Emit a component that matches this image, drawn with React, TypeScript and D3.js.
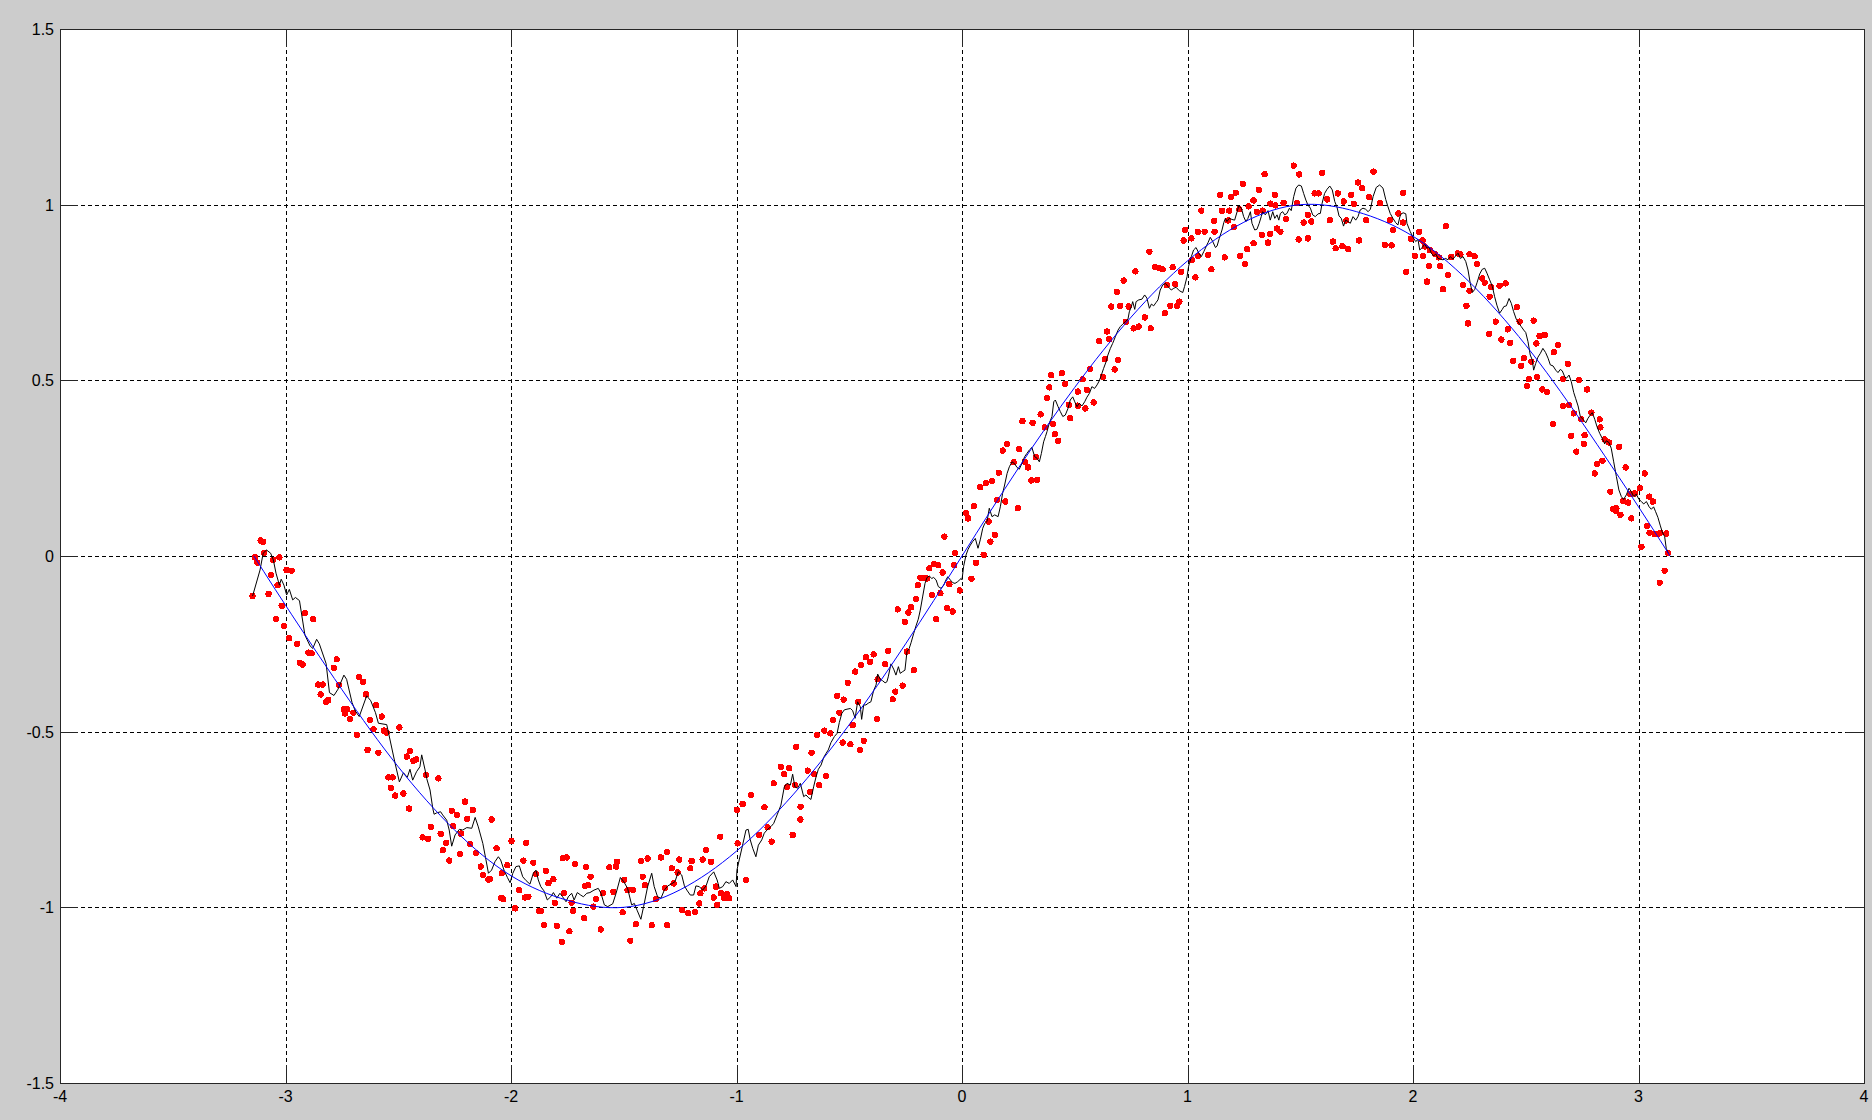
import React from 'react';
import * as d3 from 'd3';

const xTicks = [-4, -3, -2, -1, 0, 1, 2, 3, 4];
const xTickLabels = ['-4', '-3', '-2', '-1', '0', '1', '2', '3', '4'];
const yTicks = [-1.5, -1, -0.5, 0, 0.5, 1, 1.5];
const yTickLabels = ['-1.5', '-1', '-0.5', '0', '0.5', '1', '1.5'];

// red noisy samples
const redPoints: [number, number][] = [
  [-3.110,0.044],[-3.099,0.040],[-3.095,0.009],[-3.135,-0.004],[-3.125,-0.019],[-3.027,-0.004],[-3.054,-0.011],[-2.995,-0.040],[-2.973,-0.042],[-3.064,-0.054],[-3.035,-0.083],[-3.146,-0.114],[-3.075,-0.108],[-3.017,-0.142],[-3.042,-0.180],[-2.914,-0.163],[-2.877,-0.180],[-3.007,-0.199],[-2.983,-0.234],[-2.948,-0.250],[-2.899,-0.275],[-2.884,-0.277],[-2.936,-0.304],[-2.924,-0.309],[-2.773,-0.294],[-2.785,-0.318],[-2.855,-0.366],[-2.835,-0.366],[-2.844,-0.394],[-2.820,-0.415],[-2.810,-0.410],[-2.762,-0.367],[-2.673,-0.345],[-2.655,-0.358],[-2.643,-0.394],[-2.741,-0.436],[-2.726,-0.436],[-2.736,-0.448],[-2.714,-0.464],[-2.699,-0.446],[-2.598,-0.425],[-2.573,-0.457],[-2.625,-0.467],[-2.563,-0.497],[-2.551,-0.503],[-2.610,-0.493],[-2.495,-0.488],[-2.684,-0.509],[-2.636,-0.552],[-2.588,-0.560],[-2.448,-0.556],[-2.462,-0.571],[-2.433,-0.583],[-2.421,-0.579],[-2.544,-0.630],[-2.525,-0.630],[-2.533,-0.660],[-2.477,-0.676],[-2.514,-0.682],[-2.452,-0.719],
  [-2.377,-0.623],[-2.322,-0.633],[-2.204,-0.699],[-2.263,-0.725],[-2.241,-0.737],[-2.170,-0.723],[-2.194,-0.748],[-2.086,-0.750],[-2.356,-0.771],[-2.256,-0.769],[-2.392,-0.801],[-2.367,-0.805],[-2.312,-0.791],[-2.222,-0.790],[-2.288,-0.816],[-2.303,-0.837],[-2.182,-0.820],[-2.226,-0.848],[-2.274,-0.867],[-2.155,-0.845],[-2.064,-0.832],[-1.998,-0.811],[-1.933,-0.816],[-2.134,-0.884],[-2.016,-0.880],[-1.945,-0.867],[-1.901,-0.873],[-1.770,-0.860],[-1.753,-0.858],[-1.716,-0.877],[-1.667,-0.885],[-2.123,-0.908],[-2.101,-0.921],[-2.093,-0.920],[-2.041,-0.903],[-1.889,-0.905],[-1.845,-0.896],[-1.812,-0.920],[-1.834,-0.931],[-1.647,-0.913],[-1.672,-0.939],[-1.657,-0.937],[-1.963,-0.951],[-2.043,-0.973],[-2.034,-0.977],[-1.938,-0.972],[-1.923,-0.970],[-1.805,-0.987],[-1.765,-0.960],[-1.731,-0.987],[-1.623,-0.977],[-1.982,-1.003],[-1.876,-1.010],[-1.868,-1.010],[-1.724,-1.010],[-1.635,-0.998],[-1.676,-1.031],[-1.854,-1.050],[-1.797,-1.053],[-1.741,-1.068],[-1.602,-1.063],[-1.775,-1.098],
  [-0.835,-0.647],[-0.936,-0.680],[-0.973,-0.706],[-0.876,-0.715],[-0.998,-0.722],[-1.072,-0.799],[-0.995,-0.818],[-0.862,-0.772],[-0.844,-0.813],[-0.899,-0.794],[-1.135,-0.837],[-1.308,-0.843],[-1.335,-0.858],[-1.424,-0.868],[-1.394,-0.861],[-1.530,-0.870],[-1.564,-0.886],[-1.534,-0.884],[-1.254,-0.864],[-1.199,-0.868],[-1.150,-0.864],[-1.113,-0.870],[-1.205,-0.889],[-1.287,-0.889],[-1.416,-0.913],[-1.261,-0.901],[-0.958,-0.922],[-1.498,-0.922],[-1.316,-0.945],[-1.279,-0.932],[-1.406,-0.937],[-1.483,-0.951],[-1.460,-0.950],[-1.546,-0.956],[-1.143,-0.946],[-1.091,-0.941],[-1.160,-0.960],[-1.101,-0.972],[-1.069,-0.960],[-1.042,-0.962],[-1.054,-0.974],[-1.032,-0.974],[-1.357,-0.977],[-1.593,-0.960],[-1.165,-0.989],[-1.086,-0.993],[-1.241,-1.008],[-1.214,-1.017],[-1.184,-1.013],[-1.505,-1.014],[-1.446,-1.048],[-1.376,-1.051],[-1.308,-1.051],[-1.471,-1.095],
  [-0.078,0.055],[-0.031,0.009],[-0.034,-0.026],[-0.145,-0.035],[-0.123,-0.023],[-0.105,-0.026],[-0.086,-0.047],[-0.184,-0.062],[-0.167,-0.062],[-0.155,-0.064],[-0.196,-0.083],[-0.056,-0.080],[-0.010,-0.098],[-0.134,-0.111],[-0.096,-0.106],[-0.204,-0.123],[-0.226,-0.146],[-0.285,-0.152],[-0.238,-0.161],[-0.066,-0.149],[-0.041,-0.158],[-0.115,-0.180],[-0.253,-0.187],[-0.327,-0.270],[-0.244,-0.272],[-0.392,-0.280],[-0.426,-0.288],[-0.407,-0.301],[-0.448,-0.310],[-0.341,-0.308],[-0.474,-0.329],[-0.214,-0.325],[-0.507,-0.361],[-0.374,-0.351],[-0.263,-0.369],[-0.296,-0.386],[-0.307,-0.408],[-0.554,-0.398],[-0.525,-0.409],[-0.460,-0.415],[-0.544,-0.446],[-0.377,-0.464],[-0.572,-0.467],[-0.485,-0.481],[-0.611,-0.497],[-0.584,-0.505],[-0.643,-0.510],[-0.529,-0.531],[-0.495,-0.536],[-0.436,-0.526],[-0.452,-0.552],[-0.736,-0.543],[-0.667,-0.560],[-0.803,-0.600],[-0.788,-0.621],[-0.766,-0.604],[-0.684,-0.611],[-0.776,-0.657],[-0.740,-0.652],[-0.655,-0.621],[-0.603,-0.626],[-0.633,-0.652],[-0.673,-0.671],[-0.716,-0.714],[-0.717,-0.750],[-0.751,-0.794],
  [0.769,0.810],[0.717,0.784],[0.687,0.752],[0.662,0.710],[0.702,0.712],[0.739,0.710],[0.761,0.648],[0.784,0.653],[0.727,0.667],[0.643,0.639],[0.653,0.617],[0.608,0.611],[0.633,0.560],[0.692,0.558],[0.677,0.531],[0.568,0.532],[0.624,0.510],[0.535,0.503],[0.443,0.520],[0.396,0.515],[0.458,0.490],[0.387,0.480],[0.514,0.468],[0.554,0.473],[0.377,0.449],[0.584,0.437],[0.473,0.430],[0.514,0.428],[0.547,0.420],[0.349,0.403],[0.480,0.392],[0.268,0.384],[0.313,0.379],[0.367,0.366],[0.402,0.376],[0.411,0.347],[0.426,0.328],[0.200,0.319],[0.181,0.300],[0.254,0.304],[0.229,0.267],[0.278,0.268],[0.293,0.252],[0.328,0.281],[0.163,0.237],[0.307,0.215],[0.333,0.217],[0.133,0.214],[0.081,0.196],[0.106,0.207],[0.155,0.159],[0.192,0.155],[0.052,0.142],[0.248,0.136],[0.018,0.122],[0.027,0.107],[0.118,0.098],[0.145,0.060],[0.126,0.041],[0.096,0.003],[0.062,-0.019],[0.042,-0.065],
  [1.471,1.111],[1.495,1.086],[1.597,1.091],[1.342,1.087],[1.245,1.059],[1.316,1.042],[1.145,1.028],[1.193,1.022],[1.214,1.034],[1.387,1.028],[1.564,1.032],[1.582,1.032],[1.293,1.012],[1.271,0.995],[1.367,1.003],[1.389,0.998],[1.426,1.005],[1.485,1.004],[1.061,0.983],[1.153,0.983],[1.185,0.983],[1.230,0.987],[1.308,0.980],[1.333,0.983],[1.437,0.959],[1.534,0.971],[1.118,0.954],[1.180,0.955],[1.515,0.949],[1.549,0.952],[0.990,0.928],[1.046,0.923],[1.076,0.923],[1.120,0.923],[1.205,0.936],[1.397,0.932],[1.412,0.923],[1.330,0.914],[1.367,0.917],[0.983,0.898],[1.017,0.904],[1.293,0.890],[1.357,0.892],[1.493,0.901],[1.534,0.904],[1.264,0.873],[0.831,0.866],[1.092,0.857],[1.047,0.854],[1.165,0.850],[1.234,0.854],[1.020,0.843],[1.256,0.831],[0.857,0.822],[0.875,0.819],[0.890,0.816],[0.934,0.822],[0.972,0.809],[1.106,0.816],[1.035,0.793],[0.946,0.774],[0.908,0.771],[0.964,0.724],[0.924,0.712],[0.954,0.712],[0.899,0.691],[0.811,0.679],[0.837,0.648],
  [1.825,1.094],[1.756,1.063],[1.775,1.047],[1.667,1.032],[1.726,1.028],[1.956,1.034],[1.619,1.015],[1.693,1.009],[1.805,1.021],[1.737,1.002],[1.855,1.004],[1.631,0.956],[1.704,0.955],[1.793,0.956],[1.935,0.975],[1.897,0.956],[1.911,0.928],[1.956,0.949],[2.145,0.939],[2.027,0.923],[1.645,0.895],[1.761,0.898],[1.657,0.876],[1.687,0.882],[1.712,0.873],[1.875,0.886],[1.905,0.884],[1.991,0.903],[2.042,0.898],[2.052,0.881],[2.074,0.871],[2.096,0.860],[2.008,0.854],[2.044,0.854],[2.115,0.850],[2.199,0.861],[2.210,0.859],[2.170,0.851],[2.251,0.859],[2.273,0.853],[2.071,0.825],[2.121,0.825],[2.284,0.831],[1.970,0.809],[2.155,0.800],[2.307,0.790],[2.062,0.781],[2.222,0.771],[2.133,0.759],[2.318,0.778],[2.251,0.755],[2.347,0.765],[2.384,0.769],[2.340,0.738],[2.237,0.712],[2.244,0.662],[2.367,0.667],[2.338,0.632],[2.392,0.616],
  [2.411,0.776],[2.460,0.708],[2.473,0.667],[2.535,0.670],[2.421,0.645],[2.431,0.607],[2.561,0.626],[2.584,0.629],[2.547,0.605],[2.643,0.601],[2.625,0.580],[2.491,0.563],[2.444,0.556],[2.525,0.553],[2.480,0.541],[2.687,0.547],[2.514,0.503],[2.550,0.510],[2.665,0.504],[2.736,0.501],[2.506,0.484],[2.573,0.474],[2.594,0.467],[2.772,0.474],[2.665,0.427],[2.692,0.430],[2.713,0.406],[2.791,0.408],[2.621,0.376],[2.746,0.389],[2.828,0.389],[2.831,0.366],[2.702,0.342],[2.761,0.344],[2.757,0.319],[2.850,0.332],[2.869,0.323],[2.914,0.311],[2.724,0.297],[2.840,0.271],[2.816,0.262],[2.943,0.252],[2.806,0.235],[3.028,0.235],[3.006,0.193],[2.875,0.183],[2.984,0.178],[2.964,0.176],[2.932,0.157],[2.954,0.152],[3.047,0.169],[3.064,0.155],[2.887,0.133],[2.899,0.129],[2.902,0.136],[2.920,0.117],[2.968,0.107],[3.038,0.085],[3.049,0.066],[3.072,0.062],[3.086,0.062],[3.096,0.066],[3.123,0.064],[3.013,0.026],[3.131,0.009],[3.116,-0.042],[3.094,-0.076],
];

// black noisy trace
const blackLine: [number, number][] = [
  [-3.146,-0.114],[-3.113,-0.040],[-3.099,0.008],[-3.084,0.017],[-3.066,0.008],[-3.054,-0.011],[-3.042,-0.049],[-3.027,-0.083],[-3.019,-0.066],[-3.007,-0.083],[-2.995,-0.111],[-2.983,-0.095],[-2.968,-0.125],[-2.956,-0.118],[-2.938,-0.127],[-2.914,-0.225],[-2.891,-0.256],[-2.879,-0.263],[-2.862,-0.237],[-2.850,-0.250],[-2.820,-0.306],[-2.805,-0.389],[-2.785,-0.397],[-2.767,-0.379],[-2.741,-0.339],[-2.729,-0.351],[-2.705,-0.417],[-2.690,-0.442],[-2.673,-0.457],[-2.640,-0.398],[-2.622,-0.412],[-2.601,-0.446],[-2.588,-0.476],[-2.551,-0.480],[-2.514,-0.590],[-2.495,-0.643],[-2.477,-0.617],[-2.460,-0.630],[-2.448,-0.607],[-2.436,-0.638],[-2.419,-0.614],[-2.404,-0.600],
  [-2.396,-0.566],[-2.381,-0.609],[-2.374,-0.633],[-2.359,-0.666],[-2.347,-0.718],[-2.341,-0.735],[-2.329,-0.731],[-2.312,-0.728],[-2.303,-0.737],[-2.285,-0.752],[-2.274,-0.780],[-2.263,-0.826],[-2.248,-0.794],[-2.229,-0.778],[-2.214,-0.780],[-2.196,-0.773],[-2.174,-0.775],[-2.159,-0.744],[-2.145,-0.771],[-2.125,-0.818],[-2.111,-0.865],[-2.100,-0.903],[-2.086,-0.894],[-2.071,-0.870],[-2.056,-0.856],[-2.046,-0.865],[-2.031,-0.894],[-2.016,-0.915],[-2.004,-0.930],[-1.992,-0.903],[-1.978,-0.884],[-1.963,-0.882],[-1.948,-0.913],[-1.933,-0.924],[-1.916,-0.934],[-1.901,-0.903],[-1.889,-0.894],[-1.879,-0.922],[-1.868,-0.941],[-1.854,-0.953],[-1.839,-0.979],[-1.824,-0.970],[-1.812,-0.958],[-1.797,-0.974],[-1.783,-0.960],[-1.771,-0.970],[-1.756,-0.984],[-1.746,-0.970],[-1.731,-0.960],[-1.720,-0.979],[-1.706,-0.958],[-1.691,-0.965],[-1.679,-0.970],[-1.664,-0.960],[-1.650,-0.958],[-1.632,-0.951],[-1.613,-0.946],
  [-1.601,-0.960],[-1.586,-0.993],[-1.571,-0.998],[-1.549,-0.990],[-1.534,-0.960],[-1.515,-0.915],[-1.500,-0.927],[-1.483,-0.946],[-1.465,-0.993],[-1.453,-0.989],[-1.441,-1.008],[-1.424,-1.034],[-1.412,-0.998],[-1.394,-0.941],[-1.376,-0.903],[-1.365,-0.941],[-1.350,-0.970],[-1.335,-0.974],[-1.320,-0.951],[-1.305,-0.939],[-1.290,-0.934],[-1.273,-0.927],[-1.258,-0.899],[-1.243,-0.908],[-1.231,-0.939],[-1.220,-0.951],[-1.205,-0.965],[-1.190,-0.965],[-1.180,-0.939],[-1.165,-0.941],[-1.150,-0.951],[-1.135,-0.939],[-1.121,-0.913],[-1.101,-0.899],[-1.086,-0.922],[-1.076,-0.946],[-1.061,-0.941],[-1.047,-0.927],[-1.032,-0.932],[-1.017,-0.922],[-1.002,-0.941],[-0.998,-0.894],[-0.988,-0.865],[-0.973,-0.823],[-0.958,-0.780],[-0.948,-0.778],[-0.939,-0.808],[-0.928,-0.832],[-0.914,-0.856],[-0.903,-0.823],[-0.888,-0.808],[-0.877,-0.789],[-0.865,-0.780],[-0.847,-0.770],[-0.835,-0.761],[-0.820,-0.737],
  [-0.803,-0.709],[-0.788,-0.657],[-0.776,-0.647],[-0.761,-0.652],[-0.751,-0.621],[-0.741,-0.657],[-0.729,-0.661],[-0.717,-0.647],[-0.702,-0.685],[-0.692,-0.680],[-0.682,-0.687],[-0.670,-0.693],[-0.658,-0.657],[-0.647,-0.628],[-0.637,-0.607],[-0.625,-0.595],[-0.613,-0.573],[-0.603,-0.562],[-0.593,-0.552],[-0.581,-0.531],[-0.566,-0.514],[-0.554,-0.505],[-0.544,-0.474],[-0.533,-0.448],[-0.522,-0.438],[-0.510,-0.436],[-0.495,-0.434],[-0.485,-0.440],[-0.474,-0.462],[-0.463,-0.415],[-0.451,-0.429],[-0.445,-0.465],[-0.436,-0.424],[-0.426,-0.424],[-0.416,-0.419],[-0.404,-0.415],[-0.392,-0.383],[-0.381,-0.367],[-0.374,-0.336],[-0.362,-0.351],[-0.352,-0.355],[-0.341,-0.361],[-0.333,-0.358],[-0.327,-0.344],[-0.315,-0.307],[-0.303,-0.322],[-0.293,-0.339],[-0.282,-0.315],[-0.274,-0.334],[-0.263,-0.329],[-0.253,-0.325],[-0.244,-0.272],[-0.234,-0.263],[-0.226,-0.247],[-0.214,-0.220],[-0.204,-0.199],[-0.194,-0.180],[-0.185,-0.154],[-0.174,-0.114],[-0.164,-0.078],[-0.155,-0.061],[-0.145,-0.057],[-0.134,-0.064],[-0.126,-0.061],[-0.115,-0.068],[-0.105,-0.087],[-0.093,-0.092],[-0.081,-0.083],[-0.071,-0.068],[-0.063,-0.059],[-0.052,-0.068],[-0.041,-0.076],[-0.031,-0.078],[-0.019,-0.073],[-0.004,-0.064],
  [0.000,-0.068],[0.007,-0.030],[0.018,0.003],[0.027,0.019],[0.037,0.031],[0.047,0.041],[0.059,0.050],[0.071,0.022],[0.081,0.046],[0.092,0.079],[0.101,0.093],[0.111,0.098],[0.121,0.136],[0.133,0.112],[0.145,0.117],[0.160,0.112],[0.170,0.140],[0.180,0.178],[0.189,0.202],[0.200,0.235],[0.210,0.254],[0.222,0.268],[0.234,0.262],[0.244,0.252],[0.254,0.247],[0.266,0.264],[0.278,0.283],[0.288,0.292],[0.299,0.302],[0.310,0.309],[0.322,0.283],[0.333,0.278],[0.343,0.268],[0.352,0.292],[0.362,0.325],[0.370,0.340],[0.377,0.354],[0.387,0.378],[0.399,0.397],[0.407,0.439],[0.414,0.444],[0.426,0.425],[0.436,0.411],[0.447,0.397],[0.458,0.401],[0.470,0.420],[0.480,0.444],[0.491,0.453],[0.500,0.439],[0.510,0.425],[0.520,0.435],[0.532,0.427],[0.544,0.439],[0.554,0.452],[0.565,0.463],[0.576,0.482],[0.588,0.477],[0.599,0.487],[0.609,0.499],[0.618,0.515],[0.628,0.534],[0.639,0.553],[0.647,0.572],[0.658,0.591],[0.668,0.605],[0.680,0.624],[0.692,0.643],[0.702,0.653],[0.713,0.660],[0.724,0.667],[0.736,0.674],[0.742,0.695],[0.751,0.710],[0.757,0.724],[0.766,0.702],[0.772,0.724],[0.784,0.729],[0.798,0.731],
  [0.810,0.743],[0.820,0.734],[0.831,0.705],[0.840,0.717],[0.850,0.712],[0.860,0.721],[0.869,0.729],[0.879,0.757],[0.890,0.771],[0.902,0.776],[0.914,0.767],[0.928,0.757],[0.939,0.762],[0.949,0.765],[0.964,0.755],[0.979,0.750],[0.987,0.767],[0.998,0.795],[1.005,0.825],[1.017,0.852],[1.027,0.871],[1.038,0.878],[1.050,0.862],[1.061,0.852],[1.072,0.866],[1.082,0.880],[1.091,0.892],[1.101,0.907],[1.112,0.895],[1.124,0.878],[1.131,0.882],[1.141,0.904],[1.153,0.928],[1.161,0.949],[1.168,0.961],[1.175,0.952],[1.185,0.961],[1.197,0.958],[1.209,0.956],[1.220,0.980],[1.227,0.996],[1.239,0.990],[1.249,0.966],[1.259,0.952],[1.268,0.961],[1.279,0.980],[1.286,0.947],[1.298,0.928],[1.308,0.930],[1.318,0.947],[1.327,0.966],[1.333,0.980],[1.345,0.971],[1.357,0.983],[1.367,0.956],[1.378,0.980],[1.387,0.961],[1.397,0.971],[1.405,0.956],[1.412,0.975],[1.422,0.980],[1.431,0.971],[1.441,0.975],[1.452,0.990],[1.460,0.983],[1.471,1.023],[1.481,1.047],[1.493,1.056],[1.505,1.053],[1.515,1.032],[1.525,1.013],[1.534,0.999],[1.545,0.990],[1.555,0.971],[1.567,0.966],[1.579,0.974],[1.589,0.975],[1.597,1.004],
  [1.608,1.032],[1.619,1.044],[1.631,1.053],[1.642,1.042],[1.653,1.009],[1.663,0.993],[1.672,0.968],[1.682,0.961],[1.692,0.939],[1.701,0.956],[1.712,0.952],[1.722,0.947],[1.734,0.966],[1.746,0.956],[1.756,0.966],[1.766,0.985],[1.778,0.990],[1.790,0.987],[1.801,0.980],[1.811,0.987],[1.823,1.023],[1.837,1.049],[1.852,1.056],[1.867,1.047],[1.879,1.015],[1.889,0.994],[1.899,0.975],[1.911,0.961],[1.923,0.949],[1.933,0.942],[1.944,0.971],[1.956,0.977],[1.968,0.974],[1.973,0.947],[1.988,0.923],[2.000,0.907],[2.012,0.895],[2.022,0.901],[2.030,0.871],[2.041,0.878],[2.052,0.888],[2.062,0.876],[2.071,0.880],[2.081,0.862],[2.092,0.854],[2.101,0.860],[2.111,0.847],[2.121,0.845],[2.133,0.843],[2.145,0.847],[2.155,0.843],[2.165,0.852],[2.177,0.845],[2.189,0.854],[2.200,0.862],[2.210,0.847],[2.222,0.852],[2.234,0.838],[2.244,0.814],[2.254,0.776],[2.263,0.750],[2.274,0.759],[2.284,0.778],[2.296,0.803],[2.307,0.816],[2.318,0.819],[2.328,0.805],[2.340,0.786],[2.352,0.767],[2.362,0.738],[2.372,0.714],[2.384,0.691],[2.396,0.702],[2.403,0.710],
  [2.414,0.712],[2.426,0.733],[2.436,0.719],[2.446,0.696],[2.458,0.674],[2.470,0.662],[2.480,0.653],[2.491,0.643],[2.500,0.636],[2.510,0.610],[2.520,0.572],[2.529,0.558],[2.535,0.529],[2.544,0.548],[2.554,0.566],[2.565,0.577],[2.576,0.591],[2.588,0.579],[2.599,0.563],[2.609,0.544],[2.621,0.541],[2.633,0.529],[2.643,0.522],[2.653,0.531],[2.662,0.527],[2.673,0.510],[2.680,0.506],[2.692,0.515],[2.702,0.496],[2.713,0.465],[2.721,0.449],[2.732,0.427],[2.742,0.397],[2.754,0.389],[2.766,0.379],[2.776,0.392],[2.786,0.401],[2.795,0.408],[2.806,0.389],[2.816,0.368],[2.828,0.349],[2.839,0.335],[2.850,0.319],[2.857,0.328],[2.869,0.323],[2.879,0.307],[2.890,0.268],[2.902,0.226],[2.913,0.188],[2.924,0.169],[2.934,0.161],[2.946,0.174],[2.958,0.193],[2.968,0.183],[2.979,0.169],[2.990,0.176],[3.002,0.161],[3.013,0.155],[3.023,0.148],[3.035,0.155],[3.047,0.140],[3.057,0.133],[3.067,0.140],[3.076,0.126],[3.086,0.110],[3.096,0.088],[3.105,0.069],[3.116,0.055],[3.123,0.022],[3.131,0.009],
];

// smooth blue curve
const blueX = [-3.14,-3,-2.75,-2.5,-2.25,-2,-1.75,-1.5,-1.25,-1,-0.75,-0.5,-0.25,0,0.25,0.5,0.75,1,1.25,1.5,1.75,2,2.25,2.5,2.75,3,3.14];
const blueY = [0,-0.14,-0.38,-0.6,-0.78,-0.91,-0.98,-1.0,-0.95,-0.84,-0.68,-0.48,-0.25,0,0.25,0.48,0.68,0.84,0.95,1.0,0.98,0.91,0.78,0.6,0.38,0.14,0];

export default function App() {
  React.useEffect(() => {
    document.body.style.margin = '0';
  }, []);
  const W = 1872, H = 1120;
  const L = 60, R = 1864, T = 29, B = 1083;
  const x = d3.scaleLinear().domain([-4, 4]).range([L, R]);
  const y = d3.scaleLinear().domain([-1.5, 1.5]).range([B, T]);
  const line = d3.line<[number, number]>().x(d => x(d[0])).y(d => y(d[1]));
  const smooth = d3.line<[number, number]>().x(d => x(d[0])).y(d => y(d[1])).curve(d3.curveNatural);
  const blue: [number, number][] = blueX.map((v, i) => [v, blueY[i]]);
  const tickLen = 18;
  const axisColor = '#262626';
  const font = "'Liberation Sans', Arial, sans-serif";
  return (
    <svg width={W} height={H} style={{ position: 'absolute', left: 0, top: 0, display: 'block' }}>
      <rect x={0} y={0} width={W} height={H} fill="#cccccc" />
      <rect x={L} y={T} width={R - L} height={B - T} fill="#ffffff" />
      <g stroke="#000" strokeWidth={1} strokeDasharray="4,3" shapeRendering="crispEdges">
        {xTicks.slice(1, -1).map(t => (
          <line key={'gx' + t} x1={Math.round(x(t)) + 0.5} x2={Math.round(x(t)) + 0.5} y1={T} y2={B} />
        ))}
        {yTicks.slice(1, -1).map(t => (
          <line key={'gy' + t} y1={Math.round(y(t)) + 0.5} y2={Math.round(y(t)) + 0.5} x1={L} x2={R} />
        ))}
      </g>
      <g stroke={axisColor} strokeWidth={1} shapeRendering="crispEdges">
        {xTicks.map(t => (
          <g key={'tx' + t}>
            <line x1={Math.round(x(t)) + 0.5} x2={Math.round(x(t)) + 0.5} y1={B} y2={B - tickLen} />
            <line x1={Math.round(x(t)) + 0.5} x2={Math.round(x(t)) + 0.5} y1={T} y2={T + tickLen} />
          </g>
        ))}
        {yTicks.map(t => (
          <g key={'ty' + t}>
            <line y1={Math.round(y(t)) + 0.5} y2={Math.round(y(t)) + 0.5} x1={L} x2={L + tickLen} />
            <line y1={Math.round(y(t)) + 0.5} y2={Math.round(y(t)) + 0.5} x1={R} x2={R - tickLen} />
          </g>
        ))}
      </g>
      <g fill="#ff0000" shapeRendering="crispEdges">
        {redPoints.map((p, i) => (
          <circle key={'r' + i} cx={x(p[0])} cy={y(p[1])} r={3.2} />
        ))}
      </g>
      <path d={line(blackLine) || ''} fill="none" stroke="#000" strokeWidth={1} />
      <path d={smooth(blue) || ''} fill="none" stroke="#0000ff" strokeWidth={1} />
      <rect x={L + 0.5} y={T + 0.5} width={R - L} height={B - T} fill="none" stroke={axisColor} strokeWidth={1} shapeRendering="crispEdges" />
      <g fontFamily={font} fontSize={16} fill="#000">
        {xTicks.map((t, i) => (
          <text key={'lx' + t} x={x(t)} y={B + 19} textAnchor="middle">{xTickLabels[i]}</text>
        ))}
        {yTicks.map((t, i) => (
          <text key={'ly' + t} x={L - 6} y={y(t) + 6} textAnchor="end">{yTickLabels[i]}</text>
        ))}
      </g>
    </svg>
  );
}
